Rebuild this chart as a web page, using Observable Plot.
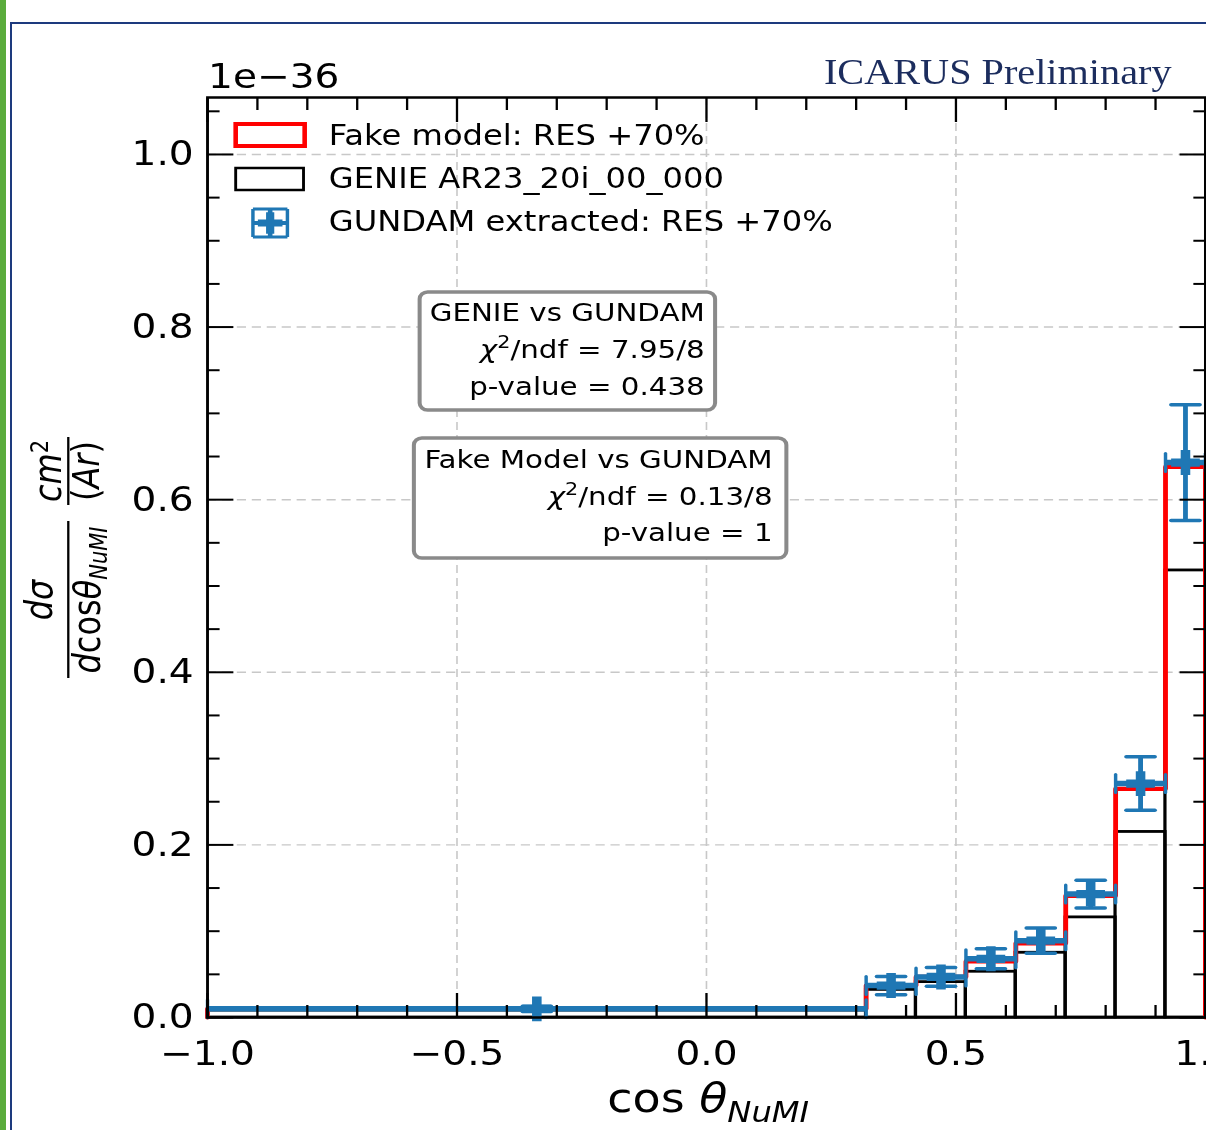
<!DOCTYPE html>
<html><head><meta charset="utf-8">
<script src="https://cdn.jsdelivr.net/npm/d3@7"></script>
<script src="https://cdn.jsdelivr.net/npm/@observablehq/plot@0.6"></script>
<style>
html,body{margin:0;padding:0;background:#fff;}
#page{position:relative;width:1206px;height:1130px;overflow:hidden;background:#fff;}
#chart{position:absolute;left:0;top:0;width:1049px;height:1130px;transform-origin:0 0;transform:scaleX(1.14967);}
#green{position:absolute;left:0;top:0;width:6px;height:1130px;background:#5aac3c;}
#navyV{position:absolute;left:10px;top:22px;width:2px;height:1108px;background:#1d3a7e;}
#navyH{position:absolute;left:10px;top:22px;width:1196px;height:2px;background:#1d3a7e;}
</style></head><body>
<div id="page"><div id="chart"></div><div id="green"></div><div id="navyV"></div><div id="navyH"></div></div>
<script>
// ---- data (units of 1e-36 cm^2 / Ar) ----
const binEdges   = [-1.0, 0.32, 0.42, 0.52, 0.62, 0.72, 0.82, 0.92, 1.0];
const fakeModel  = [0.010, 0.037, 0.047, 0.065, 0.086, 0.141, 0.265, 0.638];
const genie      = [0.008, 0.032, 0.041, 0.053, 0.075, 0.116, 0.215, 0.518];
const gundam     = [0.010, 0.037, 0.047, 0.068, 0.089, 0.143, 0.271, 0.643];
const gundamErr  = [0.003, 0.0105, 0.0108, 0.0116, 0.0146, 0.016, 0.031, 0.067];
const xMajorTicks = [-1.0, -0.5, 0.0, 0.5, 1.0];
const yMajorTicks = [0.0, 0.2, 0.4, 0.6, 0.8, 1.0];
const legendLabels = ["Fake model: RES +70%", "GENIE AR23_20i_00_000", "GUNDAM extracted: RES +70%"];
const stats1 = ["GENIE vs GUNDAM", "7.95/8", "0.438"];
const stats2 = ["Fake Model vs GUNDAM", "0.13/8", "1"];

const FONT = "DejaVu Sans";
const BLUE = "#1f77b4";

const bins = fakeModel.map((v, i) => ({
  x1: binEdges[i], x2: binEdges[i + 1], xc: (binEdges[i] + binEdges[i + 1]) / 2,
  fake: v, genie: genie[i], gundam: gundam[i], err: gundamErr[i]
}));
const stepPts = [{x: binEdges[0], y: 0}, ...bins.map(b => ({x: b.x1, y: b.fake})), {x: binEdges[binEdges.length - 1], y: 0}];
const xCaps = bins.flatMap(b => [{x: b.x1, y: b.gundam}, {x: b.x2, y: b.gundam}]);
const yCaps = bins.flatMap(b => [{x: b.xc, y: b.gundam - b.err}, {x: b.xc, y: b.gundam + b.err}]);
const capShape = {draw(ctx, l) { ctx.moveTo(0, 0); ctx.lineTo(0, -l); }};
const xMinor = d3.range(-1, 1.0001, 0.1).map(v => +v.toFixed(2)).filter(v => !xMajorTicks.some(t => Math.abs(t - v) < 1e-6));
const yMinor = d3.range(0, 1.066, 0.05).map(v => +v.toFixed(2)).filter(v => !yMajorTicks.some(t => Math.abs(t - v) < 1e-6));
const fmt = d3.format(".1f");

const tickOpts = {fill: "none", label: null, strokeWidth: 2, stroke: "black"};

const svgEl = Plot.plot({
  width: 1049, height: 1130,
  marginLeft: 180, marginRight: 1, marginTop: 97, marginBottom: 113,
  x: {domain: [-1, 1]},
  y: {domain: [0, 1.066]},
  style: {fontFamily: FONT, background: "transparent", overflow: "visible", color: "black"},
  marks: [
    Plot.gridX({ticks: xMajorTicks, stroke: "#c8c8c8", strokeOpacity: 1, strokeWidth: 1.4, strokeDasharray: "8,5"}),
    Plot.gridY({ticks: yMajorTicks, stroke: "#c8c8c8", strokeOpacity: 1, strokeWidth: 1.4, strokeDasharray: "8,5"}),
    Plot.rect(bins, {x1: "x1", x2: "x2", y1: 0, y2: "genie", fill: "none", stroke: "black", strokeWidth: 2.8}),
    Plot.line(stepPts, {x: "x", y: "y", curve: "step-after", stroke: "#ff0000", strokeWidth: 4.2}),
    Plot.ruleY(bins, {x1: "x1", x2: "x2", y: "gundam", stroke: BLUE, strokeWidth: 5.5}),
    Plot.vector(xCaps, {x: "x", y: "y", length: 18, rotate: 0, anchor: "middle", shape: capShape, stroke: BLUE, strokeWidth: 3}),
    Plot.ruleX(bins, {x: "xc", y1: d => d.gundam - d.err, y2: d => d.gundam + d.err, stroke: BLUE, strokeWidth: 4.2}),
    Plot.vector(yCaps, {x: "x", y: "y", length: 25, rotate: 90, anchor: "middle", shape: capShape, stroke: BLUE, strokeWidth: 3.5}),
    Plot.dot(bins, {x: "xc", y: "gundam", symbol: "cross", r: 10.5, fill: BLUE, stroke: "none"}),
    Plot.frame({stroke: "black", strokeWidth: 2.5}),
    Plot.axisY({anchor: "left", ticks: yMajorTicks, tickSize: -23, ...tickOpts}),
    Plot.axisY({anchor: "left", ticks: yMinor, tickSize: -11, ...tickOpts}),
    Plot.axisY({anchor: "right", ticks: yMajorTicks, tickSize: -23, ...tickOpts}),
    Plot.axisY({anchor: "right", ticks: yMinor, tickSize: -11, ...tickOpts}),
    Plot.axisX({anchor: "bottom", ticks: xMajorTicks, tickSize: -24, ...tickOpts}),
    Plot.axisX({anchor: "bottom", ticks: xMinor, tickSize: -12, ...tickOpts}),
    Plot.axisX({anchor: "top", ticks: xMajorTicks, tickSize: -24, ...tickOpts}),
    Plot.axisX({anchor: "top", ticks: xMinor, tickSize: -12, ...tickOpts}),
    Plot.axisY({anchor: "left", ticks: yMajorTicks, tickSize: 0, tickPadding: 12, tickFormat: fmt, fontSize: 34, label: null, fill: "black"}),
    Plot.axisX({anchor: "bottom", ticks: xMajorTicks, tickSize: 0, tickPadding: 23, tickFormat: fmt, fontSize: 34, label: null, fill: "black"})
  ]
});
document.getElementById("chart").appendChild(svgEl);

const svg = d3.select(svgEl);
const ann = svg.append("g").attr("font-family", FONT).attr("fill", "black").attr("text-anchor", "start");

// offset text and header
ann.append("text").attr("x", 181).attr("y", 88).attr("font-size", 34).attr("text-anchor", "start").text("1e\u221236");
ann.append("text").attr("x", 1019).attr("y", 84).attr("text-anchor", "end")
  .attr("font-family", "Liberation Serif").attr("font-size", 35).attr("fill", "#1c2d5e").text("ICARUS Preliminary");

// legend
ann.append("rect").attr("x", 205).attr("y", 124).attr("width", 60).attr("height", 22)
  .attr("fill", "none").attr("stroke", "#ff0000").attr("stroke-width", 4);
ann.append("rect").attr("x", 205).attr("y", 168).attr("width", 59).attr("height", 22)
  .attr("fill", "none").attr("stroke", "black").attr("stroke-width", 2.5);
const lm = ann.append("g").attr("transform", "translate(235,223)").attr("stroke", BLUE).attr("fill", "none");
lm.append("path").attr("d", "M-15,0H15M0,-14V14").attr("stroke-width", 4);
lm.append("path").attr("d", "M-15,-14V14M15,-14V14").attr("stroke-width", 3);
lm.append("path").attr("d", "M-15,-14H15M-15,14H15").attr("stroke-width", 3);
lm.append("path").attr("d", d3.symbol(d3.symbolCross, 9 * 9 * Math.PI)()).attr("fill", BLUE).attr("stroke", "none");
const legY = [145, 188, 231];
legendLabels.forEach((t, i) => ann.append("text").attr("x", 286).attr("y", legY[i]).attr("font-size", 28)
  .attr("text-anchor", "start").text(t));

// stats boxes
function statBox(x, y, w, h, xr, base, lines) {
  ann.append("rect").attr("x", x).attr("y", y).attr("width", w).attr("height", h).attr("rx", 7)
    .attr("fill", "white").attr("stroke", "#8a8a8a").attr("stroke-width", 3.5);
  ann.append("text").attr("x", xr).attr("y", base[0]).attr("text-anchor", "end").attr("font-size", 25.5).text(lines[0]);
  const t1 = ann.append("text").attr("x", xr).attr("y", base[1]).attr("text-anchor", "end").attr("font-size", 25.5);
  t1.append("tspan").attr("font-style", "italic").text("\u03c7");
  t1.append("tspan").attr("font-size", 18).attr("dy", -10).text("2");
  t1.append("tspan").attr("dy", 10).text("/ndf = " + lines[1]);
  ann.append("text").attr("x", xr).attr("y", base[2]).attr("text-anchor", "end").attr("font-size", 25.5).text("p-value = " + lines[2]);
}
statBox(365, 292, 257, 118, 613, [321, 358, 395], stats1);
statBox(360, 438, 324, 120, 672, [468, 505, 541], stats2);

// x label
const xl = ann.append("text").attr("x", 616).attr("y", 1112).attr("text-anchor", "middle").attr("font-size", 40);
xl.append("tspan").text("cos ");
xl.append("tspan").attr("font-style", "italic").text("\u03b8");
xl.append("tspan").attr("font-style", "italic").attr("font-size", 28).attr("dy", 10).text("NuMI");

// y label (rotated fractions)
const yl = ann.append("g").attr("transform", "translate(59.4,557) rotate(-90)").attr("font-size", 32).attr("text-anchor", "middle");
yl.append("text").attr("x", -43).attr("y", -14).attr("font-style", "italic").text("d\u03c3");
yl.append("line").attr("x1", -121).attr("x2", 36).attr("y1", 0).attr("y2", 0).attr("stroke", "black").attr("stroke-width", 2);
const den1 = yl.append("text").attr("x", -43).attr("y", 28);
den1.append("tspan").attr("font-style", "italic").text("d");
den1.append("tspan").text("cos");
den1.append("tspan").attr("font-style", "italic").text("\u03b8");
den1.append("tspan").attr("font-style", "italic").attr("font-size", 21).attr("dy", 6).text("NuMI");
const num2 = yl.append("text").attr("x", 86).attr("y", -6);
num2.append("tspan").attr("font-style", "italic").text("cm");
num2.append("tspan").attr("font-size", 21).attr("dy", -12).text("2");
yl.append("line").attr("x1", 52).attr("x2", 120).attr("y1", 0).attr("y2", 0).attr("stroke", "black").attr("stroke-width", 2);
const den2 = yl.append("text").attr("x", 86).attr("y", 27);
den2.append("tspan").text("(");
den2.append("tspan").attr("font-style", "italic").text("Ar");
den2.append("tspan").text(")");
</script>
</body></html>
